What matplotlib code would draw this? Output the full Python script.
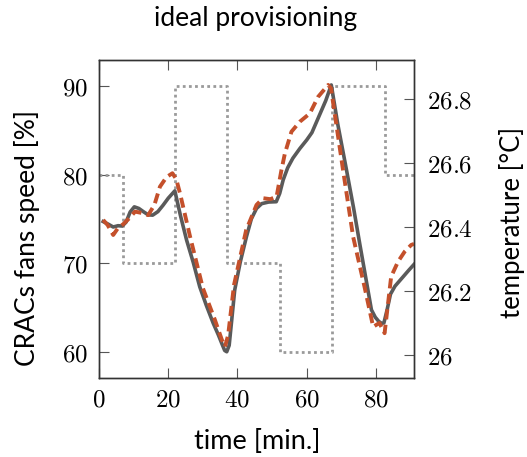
#! /usr/bin/env python3
import numpy as np
from matplotlib import pyplot as plt
from matplotlib.ticker import FuncFormatter

plt.rcParams.update({'font.size': 19.5, 'mathtext.fontset': 'cm',
                     'font.family': ['Lato', 'DejaVu Sans']})

# fan speed setpoint steps [%]
step_t = [0, 7, 22, 37, 52.3, 67.3, 82.7, 91]
step_speed = [80, 70, 90, 70, 60, 90, 80, 80]

# temperature, model (solid) [min., degC]
temp_model_t = [1.2, 2.8, 4.1, 5.5, 6.7, 7.8, 9.0, 10.2, 11.5, 12.8, 14.2, 15.5,
                17, 18.5, 20, 21.9, 23.5, 25.3, 27.2, 29.1, 31, 33, 34.5, 35.5,
                36.3, 36.9, 37.6, 38.3, 39.2, 40.8, 42.6, 44, 45.5, 47, 49,
                51.2, 52.2, 53.2, 54.5, 56, 58, 60, 61.5, 63.5, 65.5, 67.1,
                69, 71.5, 73.5, 75.3, 77, 78.7, 79.8, 80.8, 81.6, 82.3, 83.2,
                84.2, 85.5, 87.5, 89.5, 91]
temp_model = [26.417, 26.408, 26.400, 26.404, 26.403, 26.415, 26.447, 26.463,
              26.458, 26.448, 26.438, 26.437, 26.448, 26.468, 26.490, 26.513,
              26.437, 26.359, 26.290, 26.213, 26.155, 26.099, 26.062, 26.035,
              26.014, 26.010, 26.030, 26.105, 26.203, 26.290, 26.370, 26.425,
              26.458, 26.473, 26.478, 26.479, 26.505, 26.547, 26.585, 26.615,
              26.645, 26.672, 26.695, 26.745, 26.795, 26.844, 26.720, 26.578,
              26.462, 26.349, 26.245, 26.141, 26.118, 26.105, 26.099, 26.100,
              26.140, 26.190, 26.215, 26.240, 26.265, 26.283]

# temperature, measured (dashed)
temp_meas_t = [1.2, 2.5, 4.1, 5.5, 7, 8.8, 10.4, 12.3, 14.2, 16, 17.6, 19.5,
               21.2, 22.3, 23.4, 26.3, 30, 33.5, 35.5, 36.4, 37.3, 39, 42.5,
               45.5, 47.4, 49.5, 51.3, 52.7, 53.7, 55.6, 58, 60.9, 63.3, 66.2,
               67.0, 70.5, 73.4, 76.7, 79.2, 81, 82.5, 84.4, 86.4, 88.3, 90.2,
               91]
temp_meas = [26.422, 26.406, 26.375, 26.397, 26.409, 26.428, 26.448, 26.444,
             26.437, 26.469, 26.526, 26.556, 26.568, 26.550, 26.505, 26.370,
             26.209, 26.109, 26.047, 26.026, 26.062, 26.219, 26.39, 26.469,
             26.49, 26.487, 26.495, 26.578, 26.630, 26.698, 26.729, 26.755,
             26.807, 26.844, 26.834, 26.578, 26.370, 26.213, 26.088, 26.1,
             26.068, 26.245, 26.292, 26.323, 26.344, 26.347]

fig = plt.figure(figsize=(5.27, 4.57), dpi=100)
ax = fig.add_axes([0.1879, 0.1729, 0.5977, 0.6958])
ax2 = ax.twinx()

ax.step(step_t, step_speed, where='post', color='#9a9a9a', lw=2,
        linestyle=(0, (1, 1.2)))
ax2.plot(temp_model_t, temp_model, color='#5a5a5a', lw=2.6)
ax2.plot(temp_meas_t, temp_meas, color='#c4502b', lw=2.8,
         linestyle=(0, (2.6, 1.4)))

ax.set_xlim(0, 91)
ax.set_ylim(57.03, 92.94)
ax2.set_ylim(25.928, 26.922)
ax.set_xticks([0, 20, 40, 60, 80])
ax.set_yticks([60, 70, 80, 90])
ax2.set_yticks([26, 26.2, 26.4, 26.6, 26.8])

fmt = FuncFormatter(lambda v, p: r'$%g$' % round(v, 2))
ax.xaxis.set_major_formatter(fmt)
ax.yaxis.set_major_formatter(fmt)
ax2.yaxis.set_major_formatter(fmt)

ax.tick_params(direction='in', length=7, width=0.8, color='#555555',
               top=True, right=False, labelsize=18)
ax.tick_params(axis='x', pad=7)
ax.tick_params(axis='y', pad=8)
ax2.tick_params(direction='in', length=7, width=0.8, color='#555555',
                labelsize=18, pad=9)
for a in (ax, ax2):
    for s in a.spines.values():
        s.set_color('#333333')
        s.set_linewidth(1.0)

ax.set_xlabel('time [min.]', va='center')
ax.xaxis.set_label_coords(0.5016, -0.2)
ax.set_ylabel('CRACs fans speed [%]', fontsize=19, va='center')
ax.yaxis.set_label_coords(-0.2286, 0.44)
ax2.set_ylabel('temperature [°C]', fontsize=18.5, va='center')
ax2.yaxis.set_label_coords(1.31, 0.49)
ax.text(0.4968, 1.132, 'ideal provisioning', transform=ax.transAxes,
        ha='center', va='center', fontsize=19)

plt.savefig('out.png', dpi=100)
